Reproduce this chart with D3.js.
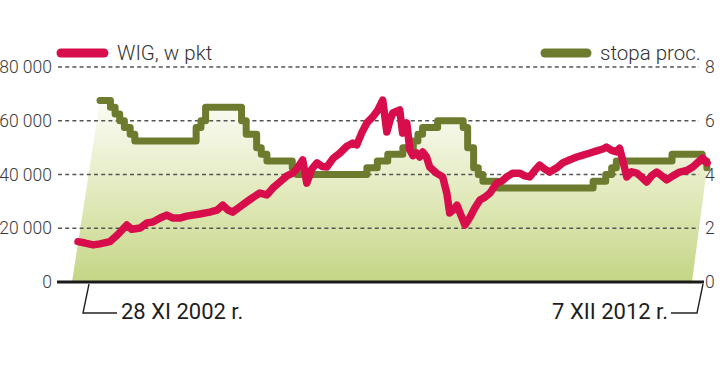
<html>
<head>
<meta charset="UTF-8">
<title>WIG i stopa procentowa</title>
<script src="https://d3js.org/d3.v7.min.js"></script>
<style>
  body{margin:0;background:#fff;}
  svg{display:block;font-family:Roboto,"Liberation Sans",sans-serif;}
</style>
</head>
<body>
<script>
// WIG, w pkt (odczyt z wykresu)
var wigDates = ["2002-11-28","2003-01-08","2003-02-25","2003-04-04","2003-06-01","2003-07-15","2003-09-08","2003-10-07","2003-11-25",
  "2004-01-04","2004-02-07","2004-03-20","2004-04-28","2004-06-03","2004-07-13","2004-08-22","2004-09-28","2004-11-06",
  "2005-01-03","2005-02-14","2005-03-20","2005-04-19","2005-05-16","2005-06-28","2005-08-06","2005-09-12","2005-10-22","2005-12-01",
  "2006-01-06","2006-02-15","2006-03-28","2006-05-01","2006-05-24","2006-06-28","2006-07-22","2006-08-20","2006-09-19","2006-10-19","2006-11-16","2006-12-22",
  "2007-01-31","2007-03-12","2007-04-16","2007-05-09","2007-06-07","2007-07-07","2007-08-10","2007-09-09","2007-10-07","2007-10-31","2007-11-18","2007-12-04",
  "2008-01-14","2008-01-31","2008-02-24","2008-03-13","2008-03-31","2008-04-21","2008-05-09","2008-05-27","2008-06-18","2008-07-06","2008-08-15","2008-09-20","2008-10-14","2008-10-31","2008-11-24","2008-12-12",
  "2009-01-04","2009-01-28","2009-02-27","2009-03-26","2009-04-25","2009-05-23","2009-06-22","2009-08-01","2009-08-30","2009-09-28","2009-11-02","2009-12-12",
  "2010-01-11","2010-02-09","2010-03-10","2010-04-08","2010-05-08","2010-06-05","2010-07-17","2010-08-20","2010-10-01","2010-11-10","2010-12-16",
  "2011-01-26","2011-03-06","2011-04-11","2011-05-02","2011-06-01","2011-07-01","2011-07-17","2011-08-04","2011-08-28","2011-09-25","2011-10-25","2011-11-22","2011-12-22",
  "2012-01-19","2012-02-18","2012-03-18","2012-04-16","2012-05-22","2012-07-01","2012-08-12","2012-09-15","2012-10-15","2012-11-12","2012-12-07"];
var wigValues = [15000,14500,13800,14200,15000,17500,21200,19600,20100,
  22000,22300,23800,24900,23800,23800,24500,24900,25300,
  26000,26700,28600,26800,26000,28000,29800,31500,33100,32400,
  35000,37200,39500,40500,42000,45400,36800,42000,44300,43000,42800,46000,
  48000,50500,51700,51000,55500,59200,61400,64000,67700,55800,60000,62900,
  64000,55400,59200,49100,47000,48000,46500,48400,46500,42800,40500,39100,33100,25700,27000,28600,
  25000,21200,24200,27500,30500,31500,33100,36800,37500,39100,40500,40500,
  39500,39100,41500,43500,42000,40900,42500,44300,45500,46500,47200,
  48000,48800,49500,50200,49000,48400,49800,45400,39100,41000,40500,39000,37200,
  39500,40900,39500,38000,39500,40900,41500,42800,44500,46100,44300];

// stopa proc. (zmiany stopy)
var rateDates = ["2002-11-28","2003-01-30","2003-02-27","2003-03-27","2003-04-24","2003-05-29","2003-06-26",
  "2004-06-30","2004-07-29","2004-08-26","2005-03-31","2005-04-28","2005-06-30","2005-07-28","2005-08-31",
  "2006-01-31","2006-02-28","2007-04-26","2007-06-28","2007-08-30","2007-11-29","2008-01-31","2008-02-28","2008-03-27","2008-06-26",
  "2008-11-27","2008-12-24","2009-01-29","2009-02-26","2009-03-26","2009-06-25",
  "2011-01-20","2011-04-06","2011-05-12","2011-06-09","2012-05-10","2012-11-08","2012-12-06","2012-12-07"];
var rateValues = [6.75,6.5,6.25,6.0,5.75,5.5,5.25,
  5.75,6.0,6.5,6.0,5.5,5.0,4.75,4.5,
  4.25,4.0,4.25,4.5,4.75,5.0,5.25,5.5,5.75,6.0,
  5.75,5.0,4.25,4.0,3.75,3.5,
  3.75,4.0,4.25,4.5,4.75,4.5,4.25,4.25];

var leftTicks = [0,20000,40000,60000,80000];
var rightTicks = [0,2,4,6,8];
var legendLabels = ["WIG, w pkt","stopa proc."];
var dateLabels = ["28 XI 2002 r.","7 XII 2012 r."];

var width = 720, height = 365;
var red = "#d70d4c", olive = "#6d7b2f";
var parse = d3.timeParse("%Y-%m-%d");
var startDate = parse(wigDates[0]), endDate = parse(wigDates[wigDates.length-1]);

var svg = d3.select("body").append("svg")
  .attr("width",width).attr("height",height);

var yWig = d3.scaleLinear().domain([0,80000]).range([282,67]);
var yRate = d3.scaleLinear().domain([0,8]).range([282,67]);
var xWig = d3.scaleTime().domain([startDate,endDate]).range([78,707]);
var xRate = d3.scaleTime().domain([startDate,endDate]).range([100,707]);

// gradient under the rate line
var grad = svg.append("defs").append("linearGradient")
  .attr("id","fillGrad").attr("gradientUnits","userSpaceOnUse")
  .attr("x1",0).attr("x2",0).attr("y1",yRate(0)).attr("y2",yRate(7.3));
grad.append("stop").attr("offset","0%").attr("stop-color","#c4d585");
grad.append("stop").attr("offset","45%").attr("stop-color","#e2eabd");
grad.append("stop").attr("offset","100%").attr("stop-color","#ffffff");

// step points of the rate line
var ratePts = [];
for (var i = 0; i < rateDates.length; i++) {
  var x0 = xRate(parse(rateDates[i]));
  var yv = yRate(rateValues[i]);
  ratePts.push([x0,yv]);
  if (i < rateDates.length-1) ratePts.push([xRate(parse(rateDates[i+1])),yv]);
}
var areaPts = [[xRate.range()[0]-28,yRate(0)]].concat(ratePts).concat([[xRate.range()[1]-15,yRate(0)]]);
svg.append("path")
  .attr("d",d3.line()(areaPts)+"Z")
  .attr("fill","url(#fillGrad)");

// grid lines
svg.append("g").selectAll("line")
  .data(leftTicks.filter(function(d){ return d > 0; }))
  .enter().append("line")
  .attr("x1",58).attr("x2",699)
  .attr("y1",function(d){ return yWig(d); })
  .attr("y2",function(d){ return yWig(d); })
  .attr("stroke","#555").attr("stroke-width",1.3)
  .attr("stroke-dasharray","4,3.2");

// baseline
svg.append("line")
  .attr("x1",57).attr("x2",704)
  .attr("y1",yWig(0)).attr("y2",yWig(0))
  .attr("stroke","#1a1a1a").attr("stroke-width",3);

// axes
var fmt = function(d){ return d3.format(",")(d).replace(/,/g," "); };
var leftAxis = svg.append("g")
  .attr("transform","translate(52,0)")
  .call(d3.axisLeft(yWig).tickValues(leftTicks).tickFormat(fmt).tickSize(0).tickPadding(0));
var rightAxis = svg.append("g")
  .attr("transform","translate(705,0)")
  .call(d3.axisRight(yRate).tickValues(rightTicks).tickSize(0).tickPadding(0));
[leftAxis,rightAxis].forEach(function(a){
  a.select(".domain").remove();
  a.selectAll("text")
    .style("font-family","Roboto, 'Liberation Sans', sans-serif")
    .style("font-size","17.5px").style("font-weight","300")
    .attr("fill","#3a3a3a");
});

// rate line
svg.append("path")
  .attr("d",d3.line()(ratePts))
  .attr("fill","none").attr("stroke",olive)
  .attr("stroke-width",7).attr("stroke-linejoin","round").attr("stroke-linecap","round");

// WIG line
var wigLine = d3.line()
  .x(function(d,i){ return xWig(parse(wigDates[i])); })
  .y(function(d){ return yWig(d); });
svg.append("path")
  .attr("d",wigLine(wigValues))
  .attr("fill","none").attr("stroke",red)
  .attr("stroke-width",7.5).attr("stroke-linejoin","round").attr("stroke-linecap","round");

// legend
var legend = svg.append("g");
legend.append("line").attr("x1",61).attr("x2",104).attr("y1",53).attr("y2",53)
  .attr("stroke",red).attr("stroke-width",9).attr("stroke-linecap","round");
legend.append("text").attr("x",117).attr("y",60).text(legendLabels[0])
  .style("font-size","20.5px").style("font-weight","300").attr("fill","#333");
legend.append("line").attr("x1",545).attr("x2",587).attr("y1",53).attr("y2",53)
  .attr("stroke",olive).attr("stroke-width",9).attr("stroke-linecap","round");
legend.append("text").attr("x",600).attr("y",60).text(legendLabels[1])
  .style("font-size","20.5px").style("font-weight","300").attr("fill","#333");

// date labels with leader lines
var lead = svg.append("g").attr("fill","none").attr("stroke","#222").attr("stroke-width",1.4);
lead.append("path").attr("d","M89,284L83,313L117,313");
lead.append("path").attr("d","M703,284L697,313L671,313");
svg.append("text").attr("x",121).attr("y",319).text(dateLabels[0])
  .style("font-size","22px").style("font-weight","400").attr("fill","#1e1e1e");
svg.append("text").attr("x",668).attr("y",319).attr("text-anchor","end").text(dateLabels[1])
  .style("font-size","22px").style("font-weight","400").attr("fill","#1e1e1e");
</script>
</body>
</html>
